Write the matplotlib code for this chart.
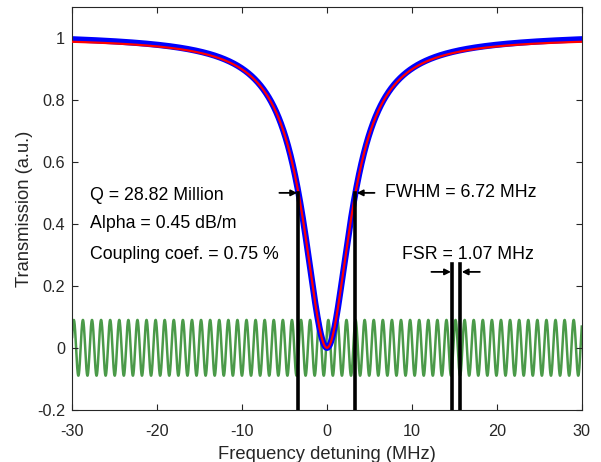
import matplotlib

matplotlib.use("Agg")
import matplotlib.pyplot as plt
import numpy as np

plt.rcParams["font.family"] = ["Liberation Sans", "DejaVu Sans"]
plt.rcParams["axes.unicode_minus"] = False

# fit / calibration parameters
CENTER = 0.0          # MHz
FWHM = 6.72           # MHz
BASELINE = 1.0
DEPTH = 1.0
DATA_OFFSET = 0.008   # measured trace sits slightly above the fit in the wings
FSR = 1.07            # MHz
FSR_AMP = 0.09
FSR_PEAK = -29.8      # MHz, position of first calibration peak

DETUNING = np.linspace(-30, 30, 3001)

HALF_MAX_X = [-3.36, 3.36]
HALF_MAX_Y = 0.5
FSR_X = [14.75, 15.72]
FSR_TOP = 0.27

LABELS = [
    "Q = 28.82 Million",
    "Alpha = 0.45 dB/m",
    "Coupling coef. = 0.75 %",
]
LABEL_Y = [0.49, 0.40, 0.30]

BLUE = "#0000ff"
RED = "#ff0000"
GREEN = "#4b9a49"
INK = "#262626"


def lorentz(x):
    return BASELINE - DEPTH / (1.0 + (2.0 * (x - CENTER) / FWHM) ** 2)


fig = plt.figure(figsize=(6.01, 4.62), dpi=100)
ax = fig.add_axes([0.12, 0.113, 0.848, 0.872])

green = FSR_AMP * np.cos(2 * np.pi * (DETUNING - FSR_PEAK) / FSR)
ax.plot(DETUNING, green, color=GREEN, linewidth=1.8, zorder=1)

data = lorentz(DETUNING) + DATA_OFFSET * (np.abs(DETUNING) / 30.0)
ax.plot(DETUNING, data, color=BLUE, linewidth=4.5, zorder=2)
ax.plot(DETUNING, lorentz(DETUNING), color=RED, linewidth=1.6, zorder=3)

for xv in HALF_MAX_X:
    ax.plot([xv, xv], [-0.2, HALF_MAX_Y], color="black", linewidth=2.6, zorder=4)
for xv in FSR_X:
    ax.plot([xv, xv], [-0.2, FSR_TOP], color="black", linewidth=2.6, zorder=4)

arrow = dict(arrowstyle="-|>", color="black", linewidth=1.3, mutation_scale=9,
             shrinkA=0, shrinkB=0)
ax.annotate("", xy=(HALF_MAX_X[0] - 0.15, HALF_MAX_Y), xytext=(-5.6, HALF_MAX_Y),
            arrowprops=arrow)
ax.annotate("", xy=(HALF_MAX_X[1] + 0.15, HALF_MAX_Y), xytext=(5.6, HALF_MAX_Y),
            arrowprops=arrow)
ax.annotate("", xy=(FSR_X[0] - 0.15, 0.245), xytext=(12.3, 0.245), arrowprops=arrow)
ax.annotate("", xy=(FSR_X[1] + 0.15, 0.245), xytext=(18.0, 0.245), arrowprops=arrow)

for label, yv in zip(LABELS, LABEL_Y):
    ax.text(-27.9, yv, label, fontsize=12.8, va="center", ha="left")
ax.text(6.8, HALF_MAX_Y, "FWHM = 6.72 MHz", fontsize=12.8, va="center", ha="left")
ax.text(16.6, 0.30, "FSR = 1.07 MHz", fontsize=12.8, va="center", ha="center")

ax.set_xlim(-30, 30)
ax.set_ylim(-0.2, 1.1)
ax.set_xticks(range(-30, 31, 10))
ax.set_yticks([-0.2, 0, 0.2, 0.4, 0.6, 0.8, 1.0])
ax.set_yticklabels(["-0.2", "0", "0.2", "0.4", "0.6", "0.8", "1"])
ax.tick_params(direction="in", top=True, right=True, labelsize=11.7, length=4,
               color=INK, labelcolor=INK)
ax.tick_params(axis="x", pad=10)
ax.tick_params(axis="y", pad=5)
for sp in ax.spines.values():
    sp.set_color(INK)
    sp.set_linewidth(0.8)

ax.set_xlabel("Frequency detuning (MHz)", fontsize=13.2, color=INK, labelpad=5)
ax.set_ylabel("Transmission (a.u.)", fontsize=13.2, color=INK, labelpad=3)

fig.savefig("out.png", dpi=100)
